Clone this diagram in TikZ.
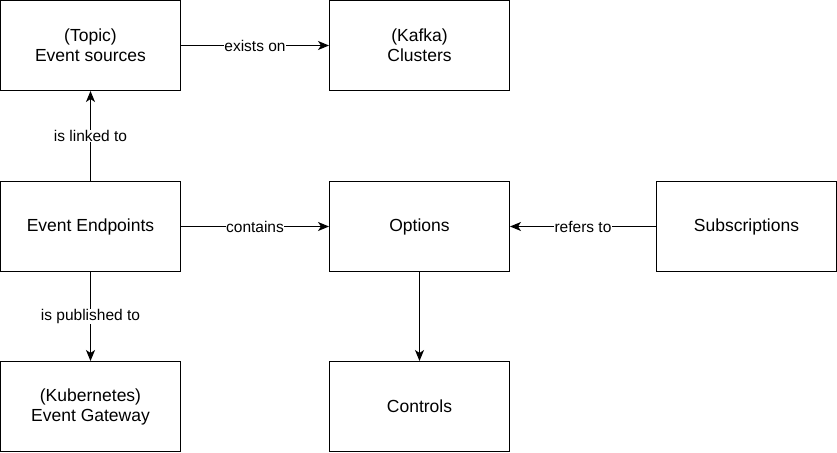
\documentclass[tikz,border=0pt]{standalone}
\usepackage{fontspec}
\setmainfont{Liberation Sans}
\usetikzlibrary{positioning,arrows.meta}

\begin{document}
\begin{tikzpicture}[x=1pt,y=-1pt,
    box/.style={draw, rectangle, line width=1pt, minimum width=180pt, minimum height=90pt, align=center, font=\fontsize{17.5}{20}\selectfont},
    rel/.style={draw, line width=1pt, -{Stealth[length=11pt,width=9pt,inset=3pt]}},
    lbl/.style={fill=white, inner sep=0.5pt, font=\fontsize{15.5}{18}\selectfont}]
    \useasboundingbox (0,0) rectangle (837,452);
    % Top row
    \node[box] (sources) at (90.5,45.5) {(Topic)\\Event sources};
    \node[box] (clusters) at (419.5,45.5) {(Kafka)\\Clusters};
    % Middle row
    \node[box] (endpoints) at (90.5,226.5) {Event Endpoints};
    \node[box] (options) at (419.5,226.5) {Options};
    \node[box] (subs) at (746.5,226.5) {Subscriptions};
    % Bottom row
    \node[box] (gateway) at (90.5,406.5) {(Kubernetes)\\Event Gateway};
    \node[box] (controls) at (419.5,406.5) {Controls};
    % Relations
    \draw[rel] (sources) -- node[lbl] {exists on} (clusters);
    \draw[rel] (endpoints) -- node[lbl] {is linked to} (sources);
    \draw[rel] (endpoints) -- node[lbl] {contains} (options);
    \draw[rel] (subs) -- node[lbl] {refers to} (options);
    \draw[rel] (endpoints) -- node[lbl] {is published to} (gateway);
    \draw[rel] (options) -- (controls);
\end{tikzpicture}
\end{document}
